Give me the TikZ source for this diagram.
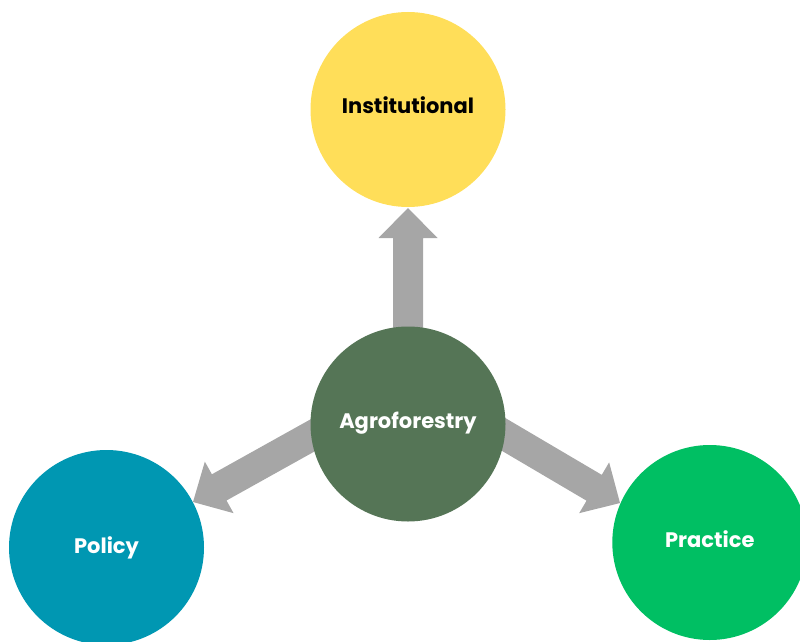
\documentclass[tikz,border=0pt]{standalone}
\usepackage{fontspec}
\setmainfont{Poppins}[BoldFont={* Bold}]
\usetikzlibrary{calc}

\definecolor{sunny}{HTML}{FFDE59}
\definecolor{forest}{HTML}{557556}
\definecolor{ocean}{HTML}{0097B2}
\definecolor{leaf}{HTML}{00BF63}
\definecolor{shaft}{HTML}{A6A6A6}

\tikzset{
  hub/.style={circle, minimum size=195pt, inner sep=0pt,
    font=\bfseries\fontsize{21}{22}\selectfont,
    text height=8pt, text depth=0pt},
}

% filled block arrow from #1 (start, hidden under the centre circle) to #2 (tip):
% shaft half-width 15, head half-width 29.5, head length 30
\newcommand{\blockarrow}[2]{%
  \coordinate (hb) at ($(#2)!30pt!(#1)$);
  \fill[shaft]
    ($(#1)!15pt!90:(#2)$) --
    ($(hb)!15pt!90:(#2)$) --
    ($(hb)!29.5pt!90:(#2)$) --
    (#2) --
    ($(hb)!29.5pt!-90:(#2)$) --
    ($(hb)!15pt!-90:(#2)$) --
    ($(#1)!15pt!-90:(#2)$) -- cycle;
}

\begin{document}
\begin{tikzpicture}[x=1pt, y=-1pt]
  \useasboundingbox (0,0) rectangle (800,642);
  \clip (0,0) rectangle (800,642);

  % arrow start and tip points
  \coordinate (upS) at (408,380);
  \coordinate (upT) at (408,208);
  \coordinate (lfS) at (324,429);
  \coordinate (lfT) at (193,502);
  \coordinate (rtS) at (491,427);
  \coordinate (rtT) at (620,503);

  \blockarrow{upS}{upT}
  \blockarrow{lfS}{lfT}
  \blockarrow{rtS}{rtT}

  \node[hub, fill=sunny, text=black] (inst) at (408,109.5) {Institutional};
  \node[hub, fill=forest, text=white] (agro) at (408,424) {Agroforestry};
  \node[hub, fill=ocean, text=white, text height=11pt] (pol) at (106.5,547.5) {Policy};
  \node[hub, fill=leaf, text=white, text height=9pt] (prac) at (709.8,542.5) {Practice};
\end{tikzpicture}
\end{document}
